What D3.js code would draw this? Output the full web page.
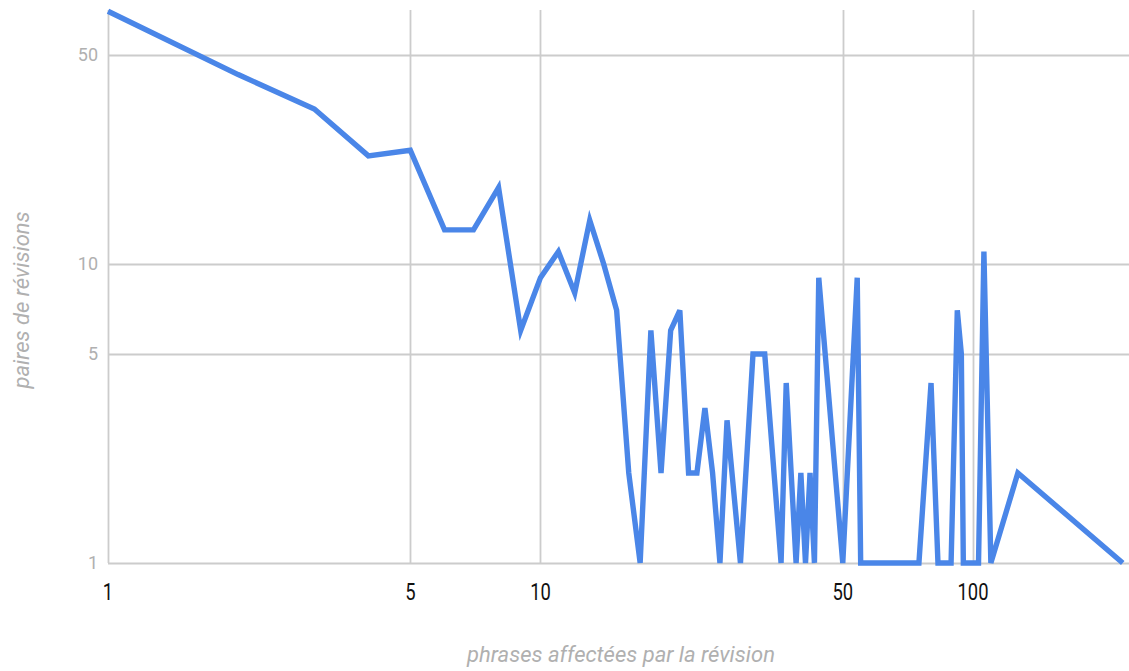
<!DOCTYPE html>
<html>
<head>
<meta charset="utf-8">
<script src="https://cdn.jsdelivr.net/npm/d3@7"></script>
<style>
  html, body { margin: 0; padding: 0; background: #fff; }
  svg { display: block; }
</style>
</head>
<body>
<svg id="chart" width="1129" height="671"></svg>
<script>
// Number of sentences touched by a revision (x) and count of revision pairs (y)
const sentences = [1, 2, 3, 4, 5, 6, 7, 8, 9, 10, 11, 12, 13, 14, 15, 16, 17, 18, 19, 20,
  21, 22, 23, 24, 25, 26, 27, 29, 31, 32, 33, 36, 37, 39, 40, 41, 42, 43, 44, 50,
  54, 55, 75, 80, 83, 89, 92, 94, 95, 103, 106, 110, 127, 222];
const pairs = [70, 43, 33, 23, 24, 13, 13, 18, 6, 9, 11, 8, 14, 10, 7, 2, 1, 6, 2, 6,
  7, 2, 2, 3.3, 2, 1, 3, 1, 5, 5, 5, 1, 4, 1, 2, 1, 2, 1, 9, 1,
  9, 1, 1, 4, 1, 1, 7, 5, 1, 1, 11, 1, 2, 1];

const xTickValues = [1, 5, 10, 50, 100];
const yTickValues = [1, 5, 10, 50];
const xTitle = "phrases affectées par la révision";
const yTitle = "paires de révisions";

const svg = d3.select("#chart");
const plotLeft = 108, plotRight = 1129.4, plotTop = 11.3, plotBottom = 563;

const x = d3.scaleLog().domain([1, 230]).range([plotLeft, plotRight]);
const y = d3.scaleLog().domain([1, 70]).range([plotBottom, plotTop]);

const grid = svg.append("g");
// horizontal grid lines
grid.selectAll("line.h").data(yTickValues).join("line")
  .attr("class", "h")
  .attr("x1", plotLeft).attr("x2", 1129)
  .attr("y1", d => Math.round(y(d)) + 0.5).attr("y2", d => Math.round(y(d)) + 0.5)
  .attr("stroke", "#cccccc").attr("stroke-width", 1.8);
// vertical grid lines
grid.selectAll("line.v").data(xTickValues).join("line")
  .attr("class", "v")
  .attr("x1", d => Math.round(x(d)) + 0.5).attr("x2", d => Math.round(x(d)) + 0.5)
  .attr("y1", 10).attr("y2", plotBottom)
  .attr("stroke", "#cccccc").attr("stroke-width", 1.8);

// y tick labels
svg.append("g").selectAll("text").data(yTickValues).join("text")
  .attr("x", 98).attr("y", d => y(d))
  .attr("dy", "0.35em")
  .attr("text-anchor", "end")
  .attr("font-family", "Roboto, sans-serif")
  .attr("font-size", 18)
  .attr("fill", "#b0b0b0")
  .text(d => d);

// x tick labels (narrow digits)
svg.append("g").selectAll("text").data(xTickValues).join("text")
  .attr("transform", d => `translate(${x(d)},600) scale(0.8,1)`)
  .attr("text-anchor", "middle")
  .attr("font-family", "Roboto, sans-serif")
  .attr("font-size", 23)
  .attr("fill", "#111")
  .text(d => d);

// axis titles
svg.append("text")
  .attr("x", 621).attr("y", 662)
  .attr("text-anchor", "middle")
  .attr("font-family", "Roboto, sans-serif")
  .attr("font-style", "italic")
  .attr("font-size", 22)
  .attr("fill", "#b0b0b0")
  .text(xTitle);

svg.append("text")
  .attr("transform", "translate(21,300) rotate(-90)")
  .attr("text-anchor", "middle")
  .attr("dominant-baseline", "central")
  .attr("font-family", "Roboto, sans-serif")
  .attr("font-style", "italic")
  .attr("font-size", 22)
  .attr("fill", "#b0b0b0")
  .text(yTitle);

// data line
const points = sentences.map((s, i) => ({ s, p: pairs[i] }));
const line = d3.line().x(d => x(d.s)).y(d => y(d.p));
svg.append("path")
  .datum(points)
  .attr("d", line)
  .attr("fill", "none")
  .attr("stroke", "#4a86e8")
  .attr("stroke-width", 5.4);
</script>
</body>
</html>
